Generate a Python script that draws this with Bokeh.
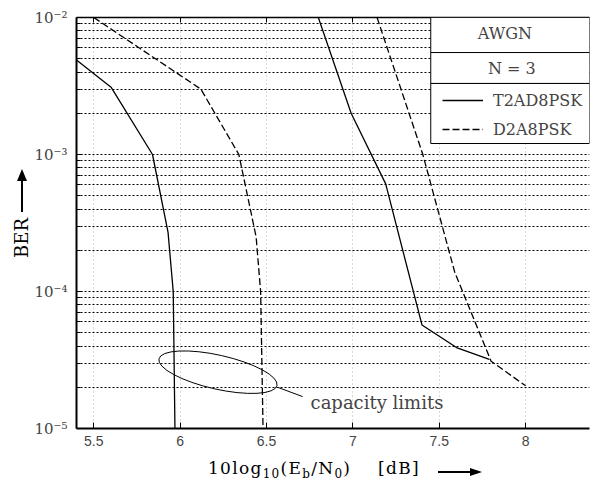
from bokeh.plotting import figure
from bokeh.models import (Range1d, FixedTicker, LinearAxis, Label, BoxAnnotation,
                          Legend, LegendItem, Div)
from bokeh.layouts import row, column
from bokeh.embed import file_html
from bokeh.resources import INLINE

# ---------------- data ----------------
t2ad_a_x = [5.40, 5.60, 5.84, 5.93, 5.96, 5.97]
t2ad_a_y = [4.9e-3, 3.1e-3, 1.0e-3, 2.7e-4, 1.0e-4, 1.0e-5]
d2a_a_x = [5.50, 6.12, 6.34, 6.44, 6.466, 6.48]
d2a_a_y = [1.0e-2, 3.0e-3, 1.0e-3, 2.5e-4, 1.0e-4, 1.0e-5]
t2ad_b_x = [6.80, 6.99, 7.19, 7.40, 7.60, 7.79]
t2ad_b_y = [1.0e-2, 2.0e-3, 6.1e-4, 5.7e-5, 3.9e-5, 3.2e-5]
d2a_b_x = [7.14, 7.405, 7.59, 7.80, 8.00]
d2a_b_y = [1.0e-2, 1.0e-3, 1.38e-4, 3.1e-5, 2.05e-5]

x_ticks = [5.5, 6.0, 6.5, 7.0, 7.5, 8.0]
x_tick_labels = ["5.5", "6", "6.5", "7", "7.5", "8"]
y_ticks = [1e-5, 1e-4, 1e-3, 1e-2]
y_tick_labels = ["10\u207b\u2075", "10\u207b\u2074", "10\u207b\u00b3", "10\u207b\u00b2"]
y_minor = [m * d for d in [1e-5, 1e-4, 1e-3] for m in range(2, 10)]

series_names = ["T2AD8PSK", "D2A8PSK"]
box_texts = ["AWGN", "N = 3"]

SERIF = "DejaVu Serif"

p = figure(width=560, height=456, output_backend="svg", toolbar_location=None,
           x_range=Range1d(5.4, 8.37), y_range=Range1d(1e-5, 1e-2), y_axis_type="log",
           min_border_left=46, min_border_right=1, min_border_top=17, min_border_bottom=28)
p.outline_line_color = None
p.background_fill_color = "white"

# grids
xt = FixedTicker(ticks=x_ticks)
yt = FixedTicker(ticks=y_ticks, minor_ticks=y_minor)
p.xaxis.ticker = xt
p.yaxis.ticker = yt
p.xgrid.ticker = xt
p.ygrid.ticker = yt
p.xgrid.grid_line_color = "#b0b0b0"
p.xgrid.grid_line_dash = "1 3"
p.xgrid.grid_line_width = 1
p.ygrid.grid_line_color = "black"
p.ygrid.grid_line_dash = "2 2"
p.ygrid.grid_line_width = 1.2
p.ygrid.minor_grid_line_color = "black"
p.ygrid.minor_grid_line_dash = "2 2"
p.ygrid.minor_grid_line_width = 1.2

# axes
xa = p.xaxis[0]
xa.major_label_overrides = {t: l for t, l in zip(x_ticks, x_tick_labels)}
xa.major_label_text_font = "Liberation Sans"
xa.major_label_text_font_size = "14px"
xa.major_label_standoff = 7
xa.major_tick_in = 6
xa.major_tick_out = 0
xa.minor_tick_line_color = None
xa.axis_line_width = 2

ya = p.yaxis[0]
ya.major_label_overrides = {t: l for t, l in zip(y_ticks, y_tick_labels)}
ya.major_label_text_font = SERIF
ya.major_label_text_font_size = "15px"
ya.major_label_standoff = 9
ya.major_tick_in = 6
ya.major_tick_out = 0
ya.minor_tick_in = 4
ya.minor_tick_out = 0
ya.axis_line_width = 2

top = LinearAxis(ticker=xt, major_label_text_font_size="1px", major_label_text_color=None,
                 major_label_standoff=0, major_tick_in=5, major_tick_out=0,
                 minor_tick_line_color=None, axis_line_width=1.5)
p.add_layout(top, "above")

# curves
LW = 1.3
r1 = p.line(t2ad_a_x, t2ad_a_y, line_color="black", line_width=LW)
p.line(t2ad_b_x, t2ad_b_y, line_color="black", line_width=LW)
r2 = p.line(d2a_a_x, d2a_a_y, line_color="black", line_width=LW, line_dash="7 3")
p.line(d2a_b_x, d2a_b_y, line_color="black", line_width=LW, line_dash="7 3")

# capacity-limit annotation
p.ellipse(x=[6.219], y=[2.577e-5], width=121, height=34, angle=-0.222,
          width_units="screen", height_units="screen",
          fill_color=None, line_color="black", line_width=1)
p.line([6.564, 6.709], [2.0e-5, 1.71e-5], line_color="black", line_width=1)
p.add_layout(Label(x=6.755, y=1.55e-5, text="capacity limits", text_font=SERIF,
                   text_font_size="18px", text_baseline="alphabetic"))

# legend box
for bottom, topv in [(5.55e-3, None), (3.30e-3, 5.55e-3), (1.203e-3, 3.30e-3)]:
    p.add_layout(BoxAnnotation(left=7.451, bottom=bottom, top=topv, fill_color="white",
                               fill_alpha=1, line_color="black", line_width=1, line_alpha=1))
p.add_layout(Label(x=7.88, y=7.6e-3, text=box_texts[0], text_font=SERIF, text_font_size="16px",
                   text_align="center", text_baseline="middle"))
p.add_layout(Label(x=7.92, y=4.22e-3, text=box_texts[1], text_font=SERIF, text_font_size="16px",
                   text_align="center", text_baseline="middle"))
legend = Legend(items=[LegendItem(label=series_names[0], renderers=[r1]),
                       LegendItem(label=series_names[1], renderers=[r2])],
                location=(366, 289), margin=0, padding=0, spacing=9,
                glyph_width=41, glyph_height=20, label_height=20, label_standoff=10,
                label_text_font=SERIF, label_text_font_size="16px",
                border_line_color=None, background_fill_alpha=0)
p.add_layout(legend)

# axis titles (HTML, for the subscripts and the arrows)
sub = '<sub style="font-size:12px;vertical-align:-4px;line-height:0">'
xlabel_html = (
    '<div style="position:relative;width:560px;height:28px;font-family:\'DejaVu Serif\';color:black">'
    '<div style="position:absolute;left:178px;top:2px;font-size:17px;line-height:20px;'
    'letter-spacing:1.3px;white-space:nowrap">'
    f'10log{sub}10</sub>(E{sub}b</sub>/N{sub}0</sub>)&nbsp;&nbsp;&nbsp;&nbsp;[dB]</div>'
    '<div style="position:absolute;left:408px;top:15px;width:32px;height:2px;background:black"></div>'
    '<div style="position:absolute;left:440px;top:12px;width:0;height:0;border-top:4px solid transparent;'
    'border-bottom:4px solid transparent;border-left:12px solid black"></div>'
    '</div>')
ylabel_html = (
    '<div style="position:relative;width:30px;height:484px;font-family:\'DejaVu Serif\';color:black">'
    '<div style="position:absolute;left:22px;top:238px;transform:translate(-50%,-50%) rotate(-90deg);'
    'font-size:18px;white-space:nowrap">BER</div>'
    '<div style="position:absolute;left:21px;top:181px;width:2px;height:31px;background:black"></div>'
    '<div style="position:absolute;left:17px;top:169px;width:0;height:0;border-left:5px solid transparent;'
    'border-right:5px solid transparent;border-bottom:12px solid black"></div>'
    '</div>')
xdiv = Div(text=xlabel_html, width=560, height=28, margin=0)
ydiv = Div(text=ylabel_html, width=30, height=484, margin=0)

layout = row(ydiv, column(p, xdiv, spacing=0), spacing=0)
open("out.html", "w").write(file_html(layout, INLINE))
